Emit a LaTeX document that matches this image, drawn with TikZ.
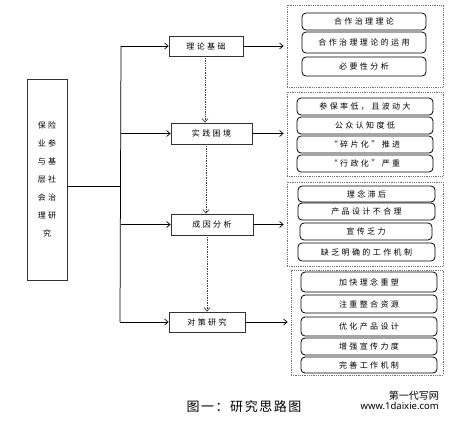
\documentclass[tikz,border=0pt]{standalone}
\usepackage{fontspec}
\setmainfont{Noto Sans CJK SC}
\newfontfamily\cjk[LetterSpace=30]{Noto Sans CJK SC}
\newfontfamily\cjkcap[LetterSpace=12]{Noto Sans CJK SC}
\newfontfamily\wmfont{Noto Sans}
\usetikzlibrary{arrows.meta}
\tikzset{
  mainbox/.style={draw=black!80, line width=0.75pt, inner sep=0pt, fill=white,
    font=\fontsize{8}{10}\cjk},
  grp/.style={draw=black!55, densely dotted, line width=0.8pt, inner sep=0pt},
  item/.style={draw=black, line width=0.8pt, rounded corners=4pt, inner sep=0pt,
    font=\fontsize{8}{10}\cjk},
  arr/.style={-{Straight Barb[length=3.5pt,width=6pt]}, line width=0.7pt},
  darr/.style={arr, densely dotted, draw=black!75},
  link/.style={line width=0.75pt}
}
\begin{document}
\begin{tikzpicture}[x=1pt,y=-1pt]
\useasboundingbox (0,0) rectangle (453,424);
% left box
\node[mainbox, minimum width=40pt, minimum height=201pt, align=center,
  font=\fontsize{8}{18}\cjk] (L) at (47,179.5) {保险\\业参\\与基\\层社\\会治\\理研\\究};
% main boxes
\node[mainbox, minimum width=74pt, minimum height=20pt] (b1) at (206,46) {理论基础};
\node[mainbox, minimum width=81pt, minimum height=21pt] (b2) at (211.5,133.5) {实践困境};
\node[mainbox, minimum width=82pt, minimum height=21pt] (b3) at (212,224.5) {成因分析};
\node[mainbox, minimum width=76pt, minimum height=20pt] (b4) at (207,322) {对策研究};
% trunk
\coordinate (t1) at (121,46);
\coordinate (t2) at (121,133.5);
\coordinate (t3) at (121,224.5);
\coordinate (t4) at (120,322);
\coordinate (j) at (121,186);
\draw[link] (L.east |- j) -- (j);
\draw[link] (t1) -- (t4);
\draw[arr] (t1) -- (b1);
\draw[arr] (t2) -- (b2);
\draw[arr] (t3) -- (b3);
\draw[arr] (t4) -- (b4);
% dotted vertical arrows
\coordinate (d1) at (205,0);
\coordinate (d2) at (206,0);
\coordinate (d3) at (207,0);
\draw[darr] (b1.south -| d1) -- (b2.north -| d1);
\draw[darr] (b2.south -| d2) -- (b3.north -| d2);
\draw[darr] (b3.south -| d3) -- (b4.north -| d3);
% groups
\node[grp, minimum width=156pt, minimum height=82pt] (g1) at (365,46) {};
\node[grp, minimum width=156pt, minimum height=84pt] (g2) at (365,134) {};
\node[grp, minimum width=156pt, minimum height=84pt] (g3) at (365,224) {};
\node[grp, minimum width=152pt, minimum height=105pt] (g4) at (367,322.5) {};
\draw[arr, shorten >=3pt] (b1) -- (b1 -| g1.west);
\draw[arr, shorten >=3pt] (b2) -- (b2 -| g2.west);
\draw[arr, shorten >=3pt] (b3) -- (b3 -| g3.west);
\draw[arr, shorten >=3pt] (b4) -- (b4 -| g4.west);
% group 1 items
\node[item, minimum width=124pt, minimum height=17pt] (r11) at (364,21.5) {合作治理理论};
\node[item, minimum width=124pt, minimum height=21pt] (r12) at (364,42.5) {合作治理理论的运用};
\node[item, minimum width=124pt, minimum height=19pt] (r13) at (364,66.5) {必要性分析};
% group 2 items
\node[item, minimum width=136pt, minimum height=17pt] (r21) at (365,106.5) {参保率低，且波动大};
\node[item, minimum width=136pt, minimum height=17pt] (r22) at (365,125.5) {公众认知度低};
\node[item, minimum width=136pt, minimum height=17pt] (r23) at (365,144.5) {“碎片化”推进};
\node[item, minimum width=136pt, minimum height=17pt] (r24) at (365,163.5) {“行政化”严重};
% group 3 items
\node[item, minimum width=137pt, minimum height=16pt] (r31) at (366.5,194) {理念滞后};
\node[item, minimum width=137pt, minimum height=17pt] (r32) at (366.5,211.5) {产品设计不合理};
\node[item, minimum width=132pt, minimum height=17pt] (r33) at (366,231.5) {宣传乏力};
\node[item, minimum width=137pt, minimum height=18pt] (r34) at (366.5,252) {缺乏明确的工作机制};
% group 4 items
\node[item, minimum width=136pt, minimum height=20pt] (r41) at (369,282) {加快理念重塑};
\node[item, minimum width=136pt, minimum height=18pt] (r42) at (369,304) {注重整合资源};
\node[item, minimum width=136pt, minimum height=19pt] (r43) at (369,326.5) {优化产品设计};
\node[item, minimum width=136pt, minimum height=17pt] (r44) at (369,346.5) {增强宣传力度};
\node[item, minimum width=136pt, minimum height=16pt] (r45) at (369,365) {完善工作机制};
% caption
\node[font=\fontsize{13}{15}\cjkcap, inner sep=0pt] (cap) at (244,406.5) {图一：研究思路图};
% watermark
\node[font=\fontsize{10}{11}\selectfont, inner sep=0pt, anchor=east] (wm1) at (439,396) {第一代写网};
\node[font=\fontsize{9.5}{11}\wmfont, inner sep=0pt, anchor=east] (wm2) at (439,406) {www.1daixie.com};
\end{tikzpicture}
\end{document}
